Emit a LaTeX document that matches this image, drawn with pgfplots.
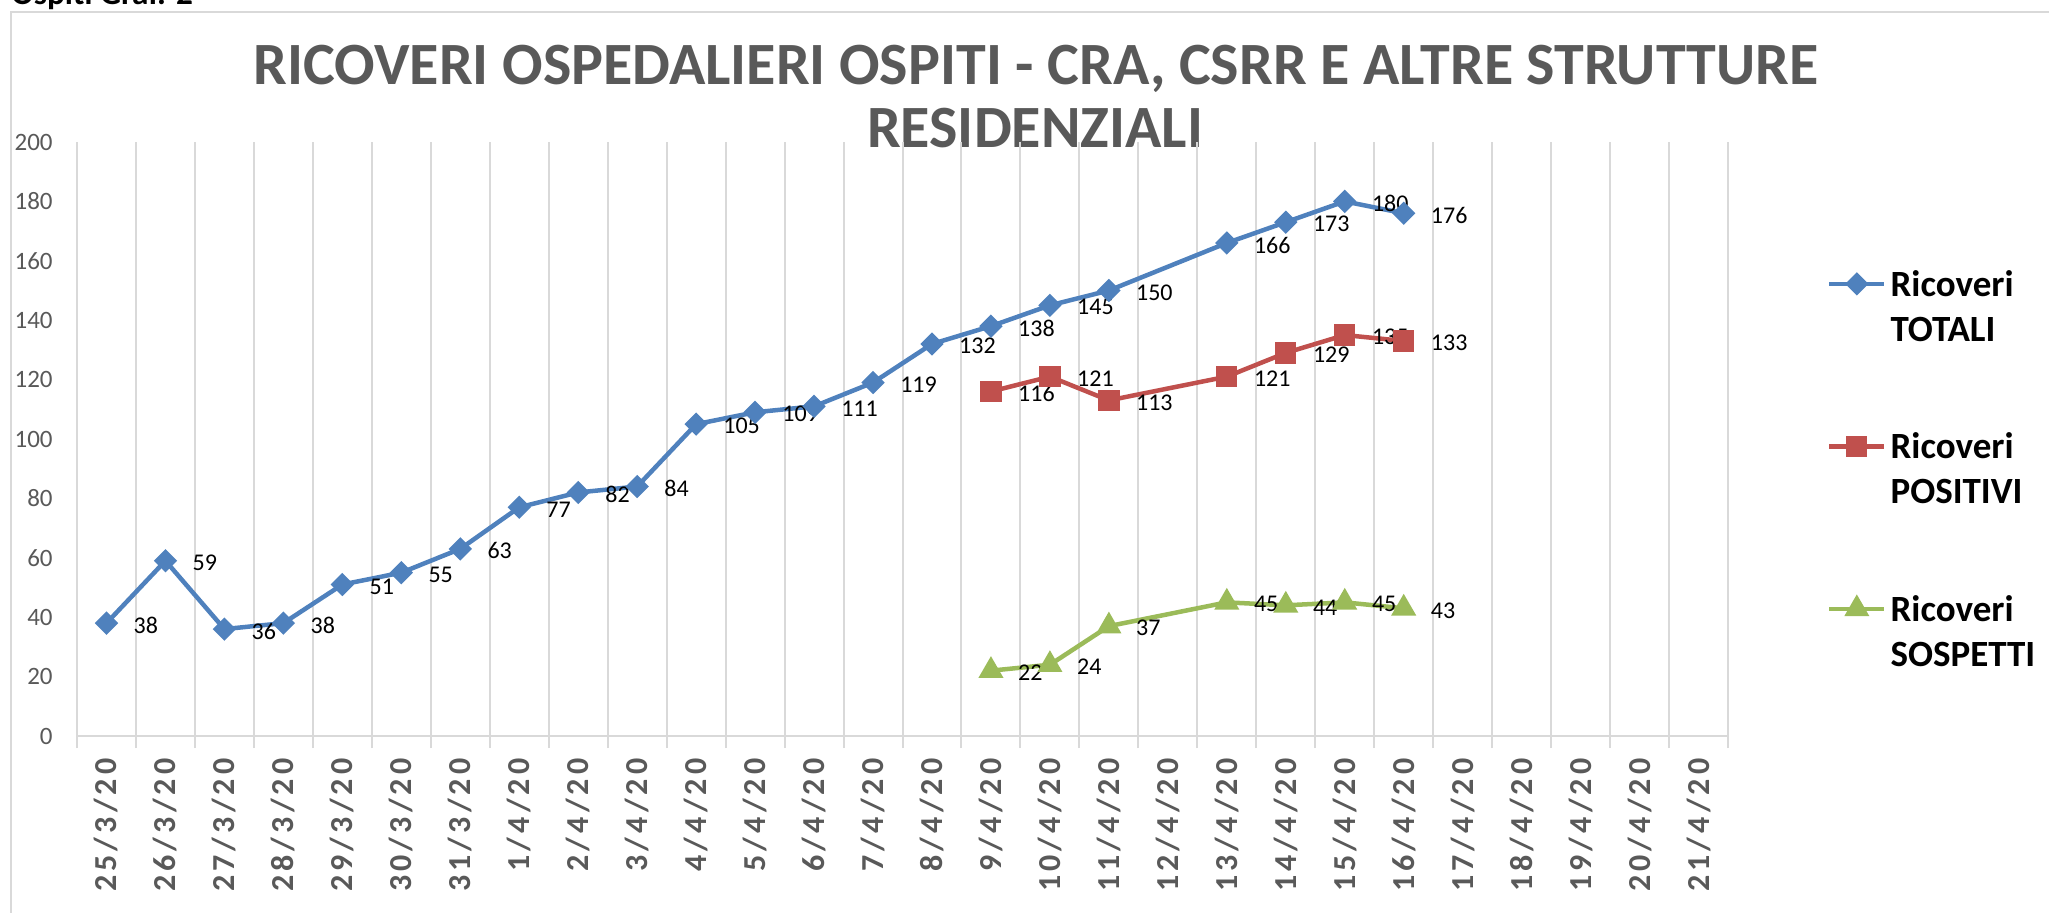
\documentclass[border=0pt]{standalone}
\usepackage{pgfplots}
\pgfplotsset{compat=1.18}
\usepackage{fontspec}
\setmainfont{Carlito}
\newfontfamily\tickfont[LetterSpace=13]{Carlito}
\definecolor{cblue}{HTML}{4F81BD}
\definecolor{cred}{HTML}{C0504D}
\definecolor{cgreen}{HTML}{9BBB59}
\definecolor{txtgray}{HTML}{595959}
\definecolor{gridgray}{HTML}{D9D9D9}
\begin{document}
\begin{tikzpicture}[x=0.5pt,y=0.5pt]
\useasboundingbox (0,0) rectangle (2049,912);
\clip (0,0) rectangle (2049,912);
\draw[gridgray, line width=1pt] (11,-10) -- (11,900) -- (2060,900);
\node[anchor=base west, inner sep=0pt, font=\bfseries\fontsize{16.6}{18}\selectfont] at (11,907) {Ospiti Graf. 2};
\node[anchor=base, inner sep=0pt, text=txtgray, font=\bfseries\fontsize{30}{33}\selectfont] at (1036,827) {RICOVERI OSPEDALIERI OSPITI - CRA, CSRR E ALTRE STRUTTURE};
\node[anchor=base, inner sep=0pt, text=txtgray, font=\bfseries\fontsize{30}{33}\selectfont] at (1035,764) {RESIDENZIALI};
\begin{axis}[
  at={(38.5pt,88pt)}, anchor=south west,
  scale only axis, width=825.5pt, height=297pt,
  xmin=-0.5, xmax=27.5, ymin=0, ymax=200,
  clip=false,
  axis line style={draw=none},
  tick pos=left, tick align=outside,
  xtick={0,...,27},
  xticklabels={25/3/20,26/3/20,27/3/20,28/3/20,29/3/20,30/3/20,31/3/20,1/4/20,2/4/20,3/4/20,4/4/20,5/4/20,6/4/20,7/4/20,8/4/20,9/4/20,10/4/20,11/4/20,12/4/20,13/4/20,14/4/20,15/4/20,16/4/20,17/4/20,18/4/20,19/4/20,20/4/20,21/4/20},
  minor xtick={-0.5,0.5,...,27.5},
  xminorgrids=true,
  minor grid style={draw=gridgray, line width=1pt},
  minor tick length=6pt,
  major tick length=0pt,
  minor tick style={draw=gridgray, line width=1pt},
  major tick style={draw=none},
  ytick={0,20,...,200},
  extra y ticks={0}, extra y tick labels={},
  extra y tick style={grid=major, major grid style={draw=gridgray, line width=1.3pt}},
  /pgf/number format/assume math mode=true,
  xticklabel style={rotate=90, anchor=east, inner sep=0pt, text=txtgray, font=\tickfont\bfseries\fontsize{16}{18}\selectfont},
  xticklabel shift=11pt,
  yticklabel style={anchor=east, inner sep=0pt, text=txtgray, font=\fontsize{12.5}{14}\selectfont},
  yticklabel shift=12pt,
  nodes near coords,
  every node near coord/.append style={anchor=west, xshift=12.5pt, yshift=-1pt, inner sep=0pt, text=black, font=\fontsize{12}{14}\selectfont},
  legend style={at={(1.06,0.8)}, anchor=north west, draw=none, fill=none, inner sep=0pt, outer sep=0pt, row sep=60pt, column sep=0pt, font=\bfseries\fontsize{18.5}{22.5}\selectfont, cells={anchor=base west, inner sep=0pt}},
  legend image code/.code={\draw[mark repeat=2,mark phase=2] plot coordinates {(0pt,6.2pt)(13.75pt,6.2pt)(27.5pt,6.2pt)};},
]
\addplot[cblue, line width=2.25pt, mark=square*, mark size=3pt, mark options={rotate=45, solid}] coordinates {
(0,38)(1,59)(2,36)(3,38)(4,51)(5,55)(6,63)(7,77)(8,82)(9,84)(10,105)(11,109)(12,111)(13,119)(14,132)(15,138)(16,145)(17,150)(19,166)(20,173)(21,180)(22,176)};
\addlegendentry{\begin{tabular}[t]{@{}l@{}}Ricoveri\\TOTALI\end{tabular}}
\addplot[cred, line width=2.25pt, mark=square*, mark size=4.2pt] coordinates {
(15,116)(16,121)(17,113)(19,121)(20,129)(21,135)(22,133)};
\addlegendentry{\begin{tabular}[t]{@{}l@{}}Ricoveri\\POSITIVI\end{tabular}}
\addplot[cgreen, line width=2.25pt, mark=triangle*, mark size=5pt] coordinates {
(15,22)(16,24)(17,37)(19,45)(20,44)(21,45)(22,43)};
\addlegendentry{\begin{tabular}[t]{@{}l@{}}Ricoveri\\SOSPETTI\end{tabular}}
\end{axis}
\end{tikzpicture}
\end{document}
